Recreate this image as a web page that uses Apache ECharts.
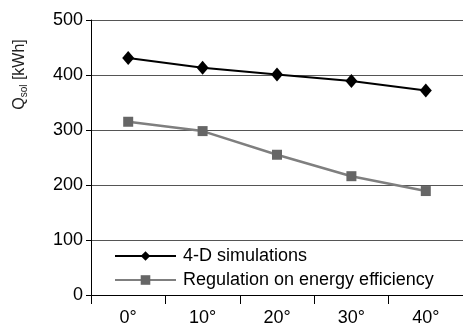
<!DOCTYPE html>
<html>
<head>
<meta charset="utf-8">
<script src="https://cdn.jsdelivr.net/npm/echarts@6/dist/echarts.min.js"></script>
<style>html,body{margin:0;padding:0;background:#fff}#c{width:463px;height:327px}</style>
</head>
<body>
<div id="c"></div>
<script>
const angles = ['0°', '10°', '20°', '30°', '40°'];
const sim4d = [431, 413, 401, 389, 372];
const regulation = [315, 298, 255, 216, 189];

const chart = echarts.init(document.getElementById('c'));
const font = 'Liberation Sans, Arial, sans-serif';

chart.setOption({
  animation: false,
  grid: { left: 91, top: 20, bottom: 29, right: -9, containLabel: false },
  legend: {
    orient: 'vertical', left: 109, top: 242, itemWidth: 61, itemHeight: 12, itemGap: 6,
    textStyle: { fontFamily: font, fontSize: 18, color: '#000', padding: [0, 0, 0, 2] },
    data: ['4-D simulations', 'Regulation on energy efficiency'],
  },
  xAxis: {
    type: 'category', data: angles, boundaryGap: true,
    axisLine: { lineStyle: { color: '#000', width: 1 } },
    axisTick: { show: true, length: 9, lineStyle: { color: '#000' } },
    axisLabel: { fontFamily: font, fontSize: 18, color: '#000', margin: 14 },
  },
  yAxis: {
    type: 'value', min: 0, max: 500, interval: 100,
    name: '{q|Q}{s|sol}{q| [kWh]}',
    nameLocation: 'middle', nameRotate: 90, nameGap: 62,
    nameTextStyle: {
      padding: [0, 0, 0, 166],
      rich: {
        q: { fontFamily: font, fontSize: 16, color: '#222' },
        s: { fontFamily: font, fontSize: 10, color: '#222', verticalAlign: 'bottom', padding: [8, 0, 0, 0] },
      },
    },
    axisLine: { show: true, lineStyle: { color: '#000' } },
    axisTick: { show: true, length: 5, lineStyle: { color: '#000' } },
    axisLabel: { fontFamily: font, fontSize: 18, color: '#000', margin: 8 },
    splitLine: { lineStyle: { color: '#555', width: 1.2 } },
  },
  series: [
    {
      name: '4-D simulations', type: 'line', data: sim4d,
      symbol: 'diamond', symbolSize: [12, 14],
      lineStyle: { color: '#000', width: 2 }, itemStyle: { color: '#000' },
      z: 5,
    },
    {
      name: 'Regulation on energy efficiency', type: 'line', data: regulation,
      symbol: 'rect', symbolSize: 10,
      lineStyle: { color: '#7f7f7f', width: 2.5 }, itemStyle: { color: '#666' },
    },
  ],
});
</script>
</body>
</html>
